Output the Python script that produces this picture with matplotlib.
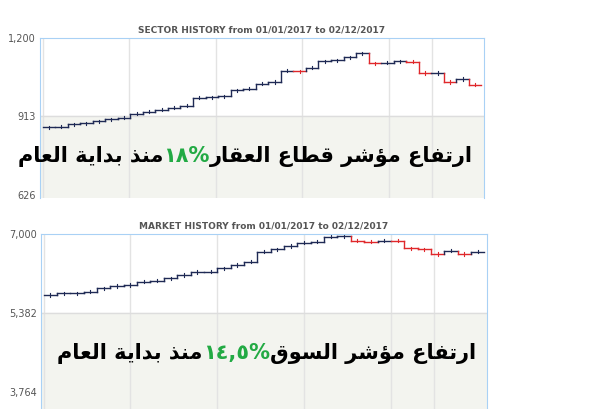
import numpy as np
import matplotlib.pyplot as plt

# بيانات أسبوعية مقروءة من الصورة
sector = [874, 876, 884, 888, 896, 902, 908, 923, 931, 937, 945, 953, 982, 984, 987,
          1009, 1015, 1033, 1039, 1080, 1078, 1091, 1115, 1119, 1129, 1144, 1107, 1110,
          1115, 1113, 1072, 1072, 1039, 1050, 1029]
market = [5751, 5785, 5785, 5819, 5887, 5935, 5955, 6024, 6044, 6092, 6160, 6222, 6229,
          6297, 6365, 6433, 6638, 6686, 6754, 6822, 6843, 6945, 6959, 6863, 6843, 6863,
          6860, 6706, 6686, 6590, 6659, 6590, 6638]
sector_ticks = [626, 913, 1200]
market_ticks = [3764, 5382, 7000]
titles = ['SECTOR HISTORY from 01/01/2017 to 02/12/2017',
          'MARKET HISTORY from 01/01/2017 to 02/12/2017']
sector_text = ['ارتفاع مؤشر قطاع العقار', '١٨%', 'منذ بداية العام']
market_text = ['ارتفاع مؤشر السوق', '١٤,٥%', 'منذ بداية العام']

# اشكال الحروف: معزول، نهائي، ابتدائي، وسطي
FORMS = {
    'ا': (0xFE8D, 0xFE8E), 'ؤ': (0xFE85, 0xFE86), 'د': (0xFEA9, 0xFEAA),
    'ذ': (0xFEAB, 0xFEAC), 'ر': (0xFEAD, 0xFEAE), 'و': (0xFEED, 0xFEEE),
    'ة': (0xFE93, 0xFE94),
    'ب': (0xFE8F, 0xFE90, 0xFE91, 0xFE92), 'ت': (0xFE95, 0xFE96, 0xFE97, 0xFE98),
    'س': (0xFEB1, 0xFEB2, 0xFEB3, 0xFEB4), 'ش': (0xFEB5, 0xFEB6, 0xFEB7, 0xFEB8),
    'ط': (0xFEC1, 0xFEC2, 0xFEC3, 0xFEC4), 'ع': (0xFEC9, 0xFECA, 0xFECB, 0xFECC),
    'ف': (0xFED1, 0xFED2, 0xFED3, 0xFED4), 'ق': (0xFED5, 0xFED6, 0xFED7, 0xFED8),
    'ل': (0xFEDD, 0xFEDE, 0xFEDF, 0xFEE0), 'م': (0xFEE1, 0xFEE2, 0xFEE3, 0xFEE4),
    'ن': (0xFEE5, 0xFEE6, 0xFEE7, 0xFEE8), 'ي': (0xFEF1, 0xFEF2, 0xFEF3, 0xFEF4),
}


def shape(s):
    out = []
    for i, c in enumerate(s):
        if c not in FORMS:
            out.append(c)
            continue
        f = FORMS[c]
        prev = s[i - 1] if i > 0 else ''
        nxt = s[i + 1] if i + 1 < len(s) else ''
        jp = prev in FORMS and len(FORMS[prev]) == 4
        jn = len(f) == 4 and nxt in FORMS
        if jp and jn:
            out.append(chr(f[3]))
        elif jp:
            out.append(chr(f[1]))
        elif jn:
            out.append(chr(f[2]))
        else:
            out.append(chr(f[0]))
    return ''.join(out)[::-1]


def panel(ax, vals, ticks, title, words, ty):
    n = len(vals)
    ax.set_xlim(-0.7, n - 0.3)
    ax.axhspan(ticks[0] - 5000, ticks[1], color='#f3f4ef', zorder=0)
    for i, v in enumerate(vals):
        col = '#1f2a55'
        if i > 0 and v < vals[i - 1]:
            col = '#e0282b'
        ax.plot([i - 0.5, i + 0.5], [v, v], color=col, lw=1)
        if i > 0:
            ax.plot([i - 0.5, i - 0.5], [vals[i - 1], v], color=col, lw=1)
        d = (ticks[2] - ticks[0]) * 0.01
        ax.plot([i, i], [v - d, v + d], color=col, lw=0.8)
    ax.set_yticks(ticks)
    ax.set_yticklabels(['{:,}'.format(t) for t in ticks])
    ax.tick_params(axis='y', length=0, labelsize=7, colors='#555555', pad=3)
    ax.set_xticks([])
    for gx in [0.0, 0.2, 0.4, 0.6, 0.8, 0.9]:
        ax.axvline(-0.5 + gx * (n - 0.5), color='#e3e3e3', lw=1, zorder=0)
    ax.axhline(ticks[1], color='#dddddd', lw=1, zorder=0)
    for sp in ['left', 'right', 'top']:
        ax.spines[sp].set_color('#a9d1f5')
    ax.spines['bottom'].set_visible(False)
    ax.set_title(title, fontsize=6.5, color='#555555', fontweight='bold', pad=4)
    # النص العربي
    t1 = ax.text(0.975, ty, shape(words[0]), transform=ax.transAxes, ha='right',
                 va='center', fontsize=15, fontweight='bold', color='black')
    t2 = ax.annotate(words[1], xy=(0, 0.5), xycoords=t1, ha='right', va='center',
                     fontsize=15, fontweight='bold', color='#22aa44')
    ax.annotate(shape(words[2]), xy=(0, 0.5), xycoords=t2, ha='right', va='center',
                fontsize=15, fontweight='bold', color='black')


fig = plt.figure(figsize=(5.97, 4.09), dpi=100)
W, H = 597.0, 409.0
ax1 = fig.add_axes([40 / W, 1 - 198 / H, 444 / W, 160 / H])
ax1.set_ylim(626 - 3 * 3.68, 1200)
panel(ax1, sector, sector_ticks, titles[0], sector_text, 0.26)

ax2 = fig.add_axes([41 / W, 0, 446 / W, 175 / H])
ax2.set_ylim(7000 - 175 * 20.48, 7000)
panel(ax2, market, market_ticks, titles[1], market_text, 0.32)

fig.savefig('out.png', dpi=100)
